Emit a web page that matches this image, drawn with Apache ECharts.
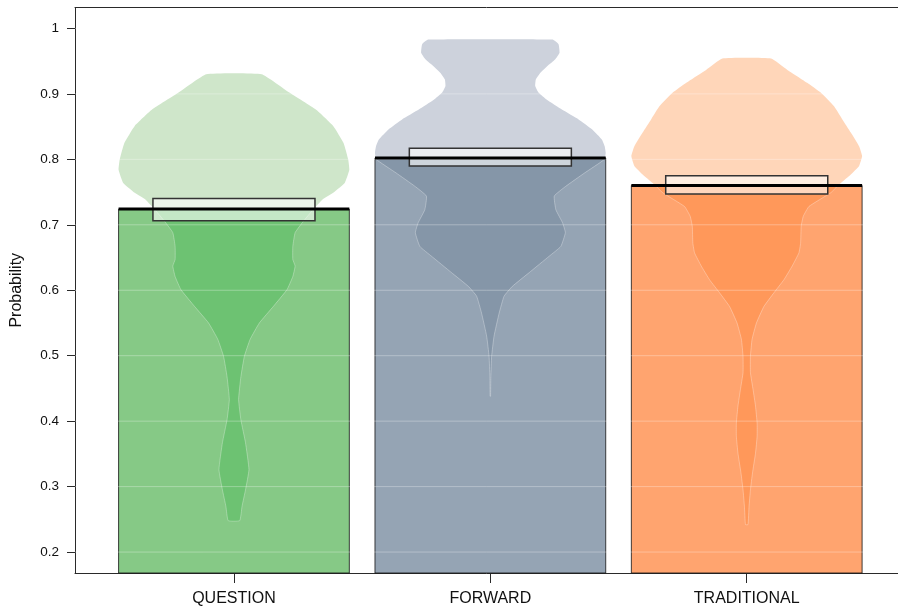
<!DOCTYPE html>
<html>
<head>
<meta charset="utf-8">
<script src="https://cdn.jsdelivr.net/npm/echarts@6/dist/echarts.min.js"></script>
<style>
  html, body { margin: 0; padding: 0; background: #fff; }
  #chart { width: 898px; height: 611px; }
</style>
</head>
<body>
<div id="chart"></div>
<script>
// Groups, their means and 95% HDI bounds
const groups = ['QUESTION', 'FORWARD', 'TRADITIONAL'];
const means = [0.724, 0.802, 0.760];
const hdiLow = [0.706, 0.790, 0.747];
const hdiHigh = [0.740, 0.817, 0.775];

// y-axis ticks
const yTicks = [0.2, 0.3, 0.4, 0.5, 0.6, 0.7, 0.8, 0.9, 1];

// Bean outlines: [probability, relative density (1 = widest point)]
const questionBean = [
  [0.248, 0.05], [0.270, 0.07], [0.295, 0.10], [0.326, 0.13], [0.367, 0.10],
  [0.402, 0.06], [0.433, 0.04], [0.468, 0.06], [0.499, 0.09], [0.525, 0.14],
  [0.550, 0.22], [0.575, 0.34], [0.601, 0.46], [0.621, 0.51], [0.637, 0.53],
  [0.647, 0.51], [0.667, 0.51], [0.688, 0.53], [0.705, 0.60], [0.722, 0.68],
  [0.739, 0.77], [0.749, 0.86], [0.764, 0.96], [0.784, 1.00], [0.800, 0.99],
  [0.825, 0.95], [0.851, 0.86], [0.876, 0.71], [0.902, 0.48], [0.930, 0.24]
];
const forwardBean = [
  [0.438, 0.002], [0.468, 0.004], [0.499, 0.011], [0.530, 0.032], [0.565, 0.076],
  [0.591, 0.119], [0.606, 0.191], [0.627, 0.337], [0.652, 0.510], [0.667, 0.611],
  [0.688, 0.650], [0.703, 0.626], [0.723, 0.568], [0.744, 0.554], [0.759, 0.655],
  [0.779, 0.815], [0.800, 0.989], [0.810, 1.000], [0.820, 0.991], [0.830, 0.968],
  [0.846, 0.881], [0.861, 0.765], [0.876, 0.620], [0.891, 0.490], [0.902, 0.417],
  [0.912, 0.389], [0.922, 0.394], [0.932, 0.432], [0.942, 0.490], [0.953, 0.563],
  [0.963, 0.600], [0.976, 0.591], [0.983, 0.540]
];
const traditionalBean = [
  [0.242, 0.011], [0.270, 0.020], [0.295, 0.032], [0.321, 0.050], [0.351, 0.076],
  [0.377, 0.090], [0.397, 0.090], [0.423, 0.076], [0.448, 0.055], [0.474, 0.032],
  [0.499, 0.032], [0.525, 0.046], [0.550, 0.084], [0.575, 0.148], [0.596, 0.235],
  [0.616, 0.322], [0.637, 0.394], [0.657, 0.452], [0.672, 0.467], [0.698, 0.472],
  [0.713, 0.490], [0.728, 0.539], [0.749, 0.728], [0.764, 0.815], [0.777, 0.902],
  [0.790, 0.974], [0.805, 1.000], [0.820, 0.974], [0.841, 0.902], [0.861, 0.829],
  [0.881, 0.757], [0.902, 0.641], [0.917, 0.524], [0.937, 0.350], [0.954, 0.211]
];
const beans = [questionBean, forwardBean, traditionalBean];

// Fill colours per group: bar, bean inside the bar, bean above the bar
const palette = [
  { bar: '#86C986', beanIn: '#6DC272', beanOut: '#CFE6CA' },
  { bar: '#95A4B4', beanIn: '#8596A8', beanOut: '#CDD2DC' },
  { bar: '#FFA46F', beanIn: '#FF985A', beanOut: '#FFD6B9' }
];

const BAR_HALF = 0.45;   // half bar width in x units
const BEAN_HALF = 0.45;  // half bean width at maximum density
const HDI_HALF = 0.316;  // half width of the HDI box
const BEAN_SMOOTH = 0.12;
const positions = groups.map((g, i) => i + 1);

const font = 'Liberation Sans, Arial, Helvetica, sans-serif';
const axisColor = '#2a2a2a';

function beanPoints(api, x, bean) {
  const right = bean.map(([v, d]) => api.coord([x + d * BEAN_HALF, v]));
  const left = bean.slice().reverse().map(([v, d]) => api.coord([x - d * BEAN_HALF, v]));
  return right.concat(left);
}

const chart = echarts.init(document.getElementById('chart'), null, { renderer: 'canvas' });

chart.setOption({
  animation: false,
  backgroundColor: '#fff',
  grid: { left: 75, right: 0, top: 7.5, bottom: 38, containLabel: false },
  xAxis: [
    {
      type: 'value', min: 0.38, max: 3.59,
      axisLine: { show: true, onZero: false, lineStyle: { color: axisColor, width: 1 } },
      axisTick: { show: true, length: 10, customValues: positions, lineStyle: { color: axisColor } },
      axisLabel: {
        customValues: positions, margin: 18, fontSize: 16, color: '#111', fontFamily: font,
        formatter: v => groups[Math.round(v) - 1]
      },
      splitLine: { show: false }
    },
    {
      type: 'value', min: 0.38, max: 3.59, position: 'top',
      axisLine: { show: true, onZero: false, lineStyle: { color: axisColor, width: 1 } },
      axisTick: { show: false }, axisLabel: { show: false }, splitLine: { show: false }
    }
  ],
  yAxis: {
    type: 'value', min: 0.168, max: 1.032,
    name: 'Probability', nameLocation: 'middle', nameGap: 50,
    nameTextStyle: { fontSize: 16, color: '#111', fontFamily: font },
    axisLine: { show: true, onZero: false, lineStyle: { color: axisColor, width: 1 } },
    axisTick: { show: true, length: 8, customValues: yTicks, lineStyle: { color: axisColor } },
    axisLabel: {
      customValues: yTicks, margin: 16, fontSize: 13.5, color: '#111', fontFamily: font,
      formatter: v => String(parseFloat(Number(v).toFixed(2)))
    },
    splitLine: { show: false }
  },
  series: [
    {
      // bars with their beans
      type: 'custom', z: 2,
      data: groups.map((g, i) => [positions[i], means[i]]),
      encode: { x: 0, y: 1 },
      renderItem: (params, api) => {
        const i = params.dataIndex;
        const x = api.value(0);
        const mean = api.value(1);
        const cs = params.coordSys;
        const bottom = cs.y + cs.height;
        const tl = api.coord([x - BAR_HALF, mean]);
        const tr = api.coord([x + BAR_HALF, mean]);
        const barRect = { x: tl[0], y: tl[1], width: tr[0] - tl[0], height: bottom - tl[1] };
        const pts = beanPoints(api, x, beans[i]);
        const c = palette[i];
        return {
          type: 'group',
          children: [
            { type: 'polygon', shape: { points: pts, smooth: BEAN_SMOOTH }, style: { fill: c.beanOut } },
            { type: 'rect', shape: barRect, style: { fill: c.bar } },
            {
              type: 'polygon', shape: { points: pts, smooth: BEAN_SMOOTH },
              style: { fill: c.beanIn, stroke: 'rgba(255,255,255,0.3)', lineWidth: 1 },
              clipPath: { type: 'rect', shape: barRect }
            },
            { type: 'rect', shape: barRect, style: { fill: null, stroke: 'rgba(20,20,20,0.8)', lineWidth: 1 } }
          ]
        };
      }
    },
    {
      // horizontal guide lines drawn over the bars
      type: 'custom', z: 3, silent: true,
      data: yTicks.map(v => [2, v]),
      encode: { x: 0, y: 1 },
      renderItem: (params, api) => {
        const cs = params.coordSys;
        const y = api.coord([2, api.value(1)])[1];
        return {
          type: 'line',
          shape: { x1: cs.x, y1: y, x2: cs.x + cs.width, y2: y },
          style: { stroke: 'rgba(255,255,255,0.3)', lineWidth: 1 }
        };
      }
    },
    {
      // HDI boxes and mean lines
      type: 'custom', z: 4,
      data: groups.map((g, i) => [positions[i], means[i], hdiLow[i], hdiHigh[i]]),
      encode: { x: 0, y: [1, 2, 3] },
      renderItem: (params, api) => {
        const x = api.value(0);
        const a = api.coord([x - HDI_HALF, api.value(3)]);
        const b = api.coord([x + HDI_HALF, api.value(2)]);
        const l = api.coord([x - BAR_HALF, api.value(1)]);
        const r = api.coord([x + BAR_HALF, api.value(1)]);
        return {
          type: 'group',
          children: [
            {
              type: 'rect',
              shape: { x: a[0], y: a[1], width: b[0] - a[0], height: b[1] - a[1] },
              style: { fill: 'rgba(255,255,255,0.6)', stroke: '#333', lineWidth: 1.5 }
            },
            {
              type: 'line',
              shape: { x1: l[0], y1: l[1], x2: r[0], y2: r[1] },
              style: { stroke: '#000', lineWidth: 3 }
            }
          ]
        };
      }
    }
  ]
});
</script>
</body>
</html>
